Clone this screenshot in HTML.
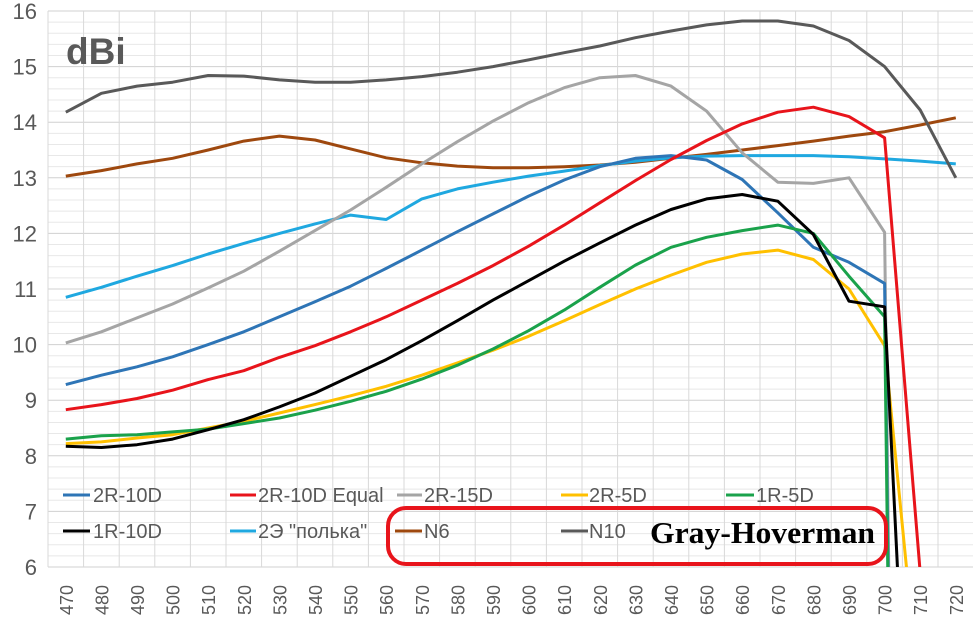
<!DOCTYPE html>
<html><head><meta charset="utf-8"><style>
html,body{margin:0;padding:0;background:#fff;overflow:hidden;width:973px;height:625px;}
svg{display:block;font-family:"Liberation Sans","DejaVu Sans",sans-serif;}
</style></head><body>
<svg id="s" width="973" height="625" xmlns="http://www.w3.org/2000/svg">
<defs><clipPath id="c"><rect x="48" y="11" width="925" height="556"/></clipPath></defs>
<g id="grid"></g>
<text x="66" y="64" font-size="37" font-weight="bold" fill="#595959">dBi</text>
<g id="ylab" font-size="22" fill="#595959" text-anchor="end"></g>
<g id="xlab" font-size="18" fill="#595959"></g>
<g id="series" clip-path="url(#c)" fill="none" stroke-width="3" stroke-linejoin="round"></g>
<g font-size="20" fill="#595959">
<line x1="63" y1="495" x2="90" y2="495" stroke="#2E75B6" stroke-width="3"/><text x="93" y="502">2R-10D</text>
<line x1="230" y1="495" x2="256" y2="495" stroke="#E8141B" stroke-width="3"/><text x="258" y="502">2R-10D Equal</text>
<line x1="397" y1="495" x2="422" y2="495" stroke="#A5A5A5" stroke-width="3"/><text x="424" y="502">2R-15D</text>
<line x1="561" y1="495" x2="588" y2="495" stroke="#FFC000" stroke-width="3"/><text x="589" y="502">2R-5D</text>
<line x1="726" y1="495" x2="754" y2="495" stroke="#1AA24B" stroke-width="3"/><text x="756" y="502">1R-5D</text>
<line x1="63" y1="531" x2="90" y2="531" stroke="#000" stroke-width="3"/><text x="93" y="538">1R-10D</text>
<line x1="230" y1="531" x2="256" y2="531" stroke="#1FA8E0" stroke-width="3"/><text x="258" y="538">2Э "полька"</text>
<line x1="395" y1="531" x2="422" y2="531" stroke="#9E480E" stroke-width="3"/><text x="424" y="538">N6</text>
<line x1="561" y1="531" x2="588" y2="531" stroke="#595959" stroke-width="3"/><text x="589" y="538">N10</text>
</g>
<rect x="388" y="508" width="498" height="56" rx="18" ry="18" fill="none" stroke="#E8141B" stroke-width="4"/>
<text x="650" y="543" font-family="'Liberation Serif',serif" font-weight="bold" font-size="31" fill="#000" textLength="225" lengthAdjust="spacingAndGlyphs">Gray-Hoverman</text>
</svg>
<script>
var X=function(i){return 48+35.6*(i+0.5)},Y=function(v){return 567-(v-6)*55.6};
var g='';
for(var k=0;k<=50;k++){var y=567-k*11.12;g+='<line x1="48" x2="973" y1="'+y+'" y2="'+y+'" stroke="'+(k%5==0?'#D0D0D0':'#E8E8E8')+'" stroke-width="1"/>';}
for(var i=0;i<=26;i++){var x=48+35.6*i;g+='<line x1="'+x+'" x2="'+x+'" y1="11" y2="567" stroke="#D9D9D9" stroke-width="1"/>';}
document.getElementById('grid').innerHTML=g;
var yl='';for(var v=6;v<=16;v++)yl+='<text x="37" y="'+(Y(v)+8)+'">'+v+'</text>';
document.getElementById('ylab').innerHTML=yl;
var xl='';for(var i=0;i<26;i++){var x=X(i)+7;xl+='<text transform="translate('+x+',615) rotate(-90)">'+(470+i*10)+'</text>';}
document.getElementById('xlab').innerHTML=xl;
var S=[
['#9E480E',[13.03,13.13,13.25,13.35,13.5,13.66,13.75,13.68,13.52,13.36,13.27,13.21,13.18,13.18,13.2,13.23,13.28,13.35,13.42,13.5,13.58,13.66,13.75,13.83,13.95,14.08]],
['#1FA8E0',[10.85,11.03,11.23,11.42,11.63,11.82,12,12.17,12.33,12.25,12.62,12.8,12.92,13.03,13.12,13.22,13.3,13.36,13.39,13.4,13.4,13.4,13.38,13.34,13.3,13.25]],
['#A5A5A5',[10.03,10.23,10.48,10.73,11.02,11.32,11.68,12.05,12.42,12.83,13.25,13.65,14.02,14.35,14.62,14.8,14.84,14.65,14.2,13.45,12.92,12.9,13,12.02,-40]],
['#595959',[14.18,14.52,14.65,14.72,14.84,14.83,14.76,14.72,14.72,14.76,14.82,14.9,15,15.12,15.25,15.37,15.52,15.64,15.75,15.82,15.82,15.73,15.47,15,14.22,13]],
['#2E75B6',[9.28,9.45,9.6,9.78,10,10.23,10.5,10.77,11.05,11.37,11.7,12.03,12.35,12.67,12.96,13.2,13.35,13.4,13.32,12.97,12.37,11.75,11.48,11.1,-40]],
['#E8141B',[8.83,8.92,9.03,9.18,9.37,9.53,9.77,9.98,10.23,10.5,10.8,11.1,11.42,11.77,12.15,12.55,12.95,13.33,13.67,13.97,14.18,14.27,14.1,13.72,5.9]],
['#FFC000',[8.22,8.25,8.32,8.38,8.5,8.62,8.77,8.92,9.08,9.25,9.45,9.67,9.9,10.15,10.43,10.72,11,11.25,11.48,11.63,11.7,11.53,11,9.98,3.5]],
['#1AA24B',[8.3,8.36,8.38,8.43,8.48,8.58,8.68,8.82,8.98,9.16,9.38,9.63,9.92,10.25,10.62,11.03,11.43,11.75,11.93,12.05,12.15,12,11.23,10.5,-40]],
['#000000',[8.17,8.15,8.2,8.3,8.47,8.65,8.88,9.13,9.43,9.73,10.07,10.43,10.8,11.15,11.5,11.83,12.15,12.43,12.62,12.7,12.58,11.98,10.78,10.68,-2.3]]
];
var h='';S.forEach(function(s){var d=s[1],pts=[];
for(var i=0;i<d.length;i++){var v=d[i];
 if(v<5.9&&i>0){var p=d[i-1],t=(p-5.9)/(p-v);pts.push((X(i-1)+35.6*t).toFixed(1)+','+Y(5.9).toFixed(1));break;}
 pts.push(X(i).toFixed(1)+','+Y(v).toFixed(1));}
h+='<polyline stroke="'+s[0]+'" points="'+pts.join(' ')+'"/>';});
document.getElementById('series').innerHTML=h;
</script>
</body></html>
